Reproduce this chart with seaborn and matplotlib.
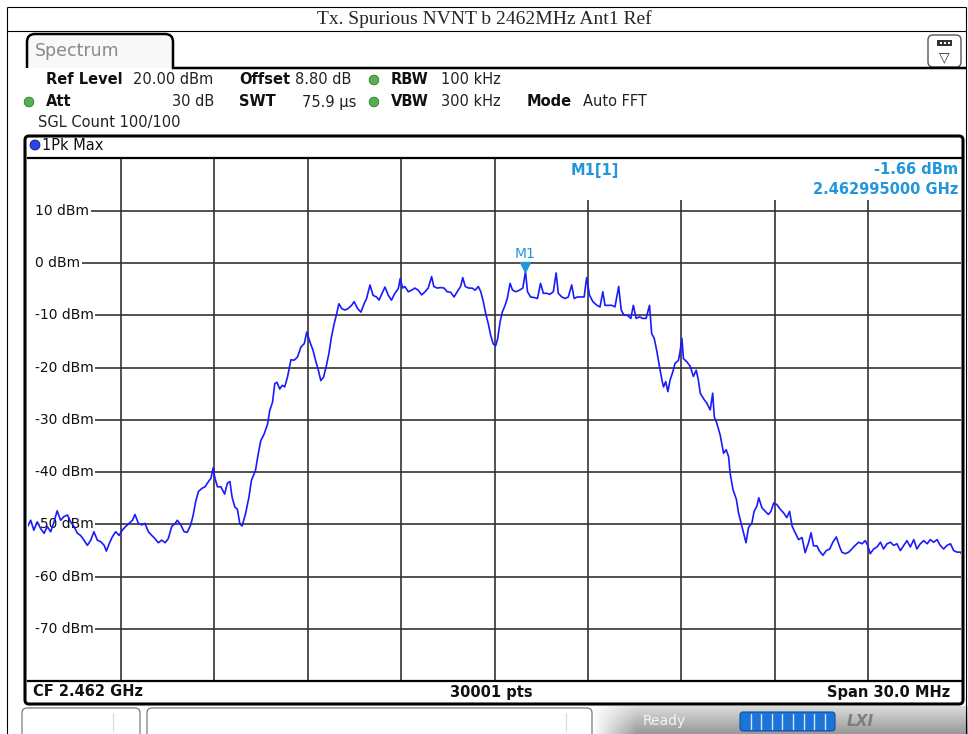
import numpy as np
import pandas as pd
import matplotlib
matplotlib.use("Agg")
import matplotlib.pyplot as plt
import matplotlib.transforms as mtransforms
from matplotlib.patches import Rectangle, FancyBboxPatch, Circle, PathPatch
from matplotlib.path import Path
import seaborn as sns

sns.set_theme(style="white")
plt.rcParams["font.family"] = ["DejaVu Sans"]

# ---- analyzer settings ----
center_ghz = 2.462
span_mhz = 30.0
ref_level_dbm = 20.0
db_per_div = 10.0
n_divs = 10
n_points = 30001
marker_freq_ghz = 2.462995
marker_level_dbm = -1.66

# ---- 1Pk Max trace: offset from start frequency (MHz) and level (dBm) ----
freq_offset_mhz = [
    0.00, 0.10, 0.20, 0.31, 0.42, 0.53, 0.63, 0.74, 0.85, 0.95,
    1.06, 1.17, 1.28, 1.38, 1.49, 1.60, 1.70, 1.81, 1.92, 2.03,
    2.13, 2.24, 2.35, 2.46, 2.53, 2.62, 2.72, 2.83, 2.94, 3.04,
    3.15, 3.26, 3.37, 3.45, 3.56, 3.67, 3.77, 3.88, 3.99, 4.09,
    4.20, 4.31, 4.42, 4.52, 4.63, 4.74, 4.81, 4.92, 5.03, 5.13,
    5.24, 5.32, 5.40, 5.49, 5.60, 5.70, 5.81, 5.89, 5.96, 6.02,
    6.10, 6.21, 6.33, 6.42, 6.50, 6.57, 6.66, 6.74, 6.82, 6.89,
    7.00, 7.11, 7.19, 7.32, 7.41, 7.49, 7.60, 7.71, 7.78, 7.87,
    7.94, 8.01, 8.10, 8.18, 8.26, 8.35, 8.46, 8.56, 8.67, 8.78,
    8.89, 8.97, 9.07, 9.17, 9.25, 9.34, 9.42, 9.51, 9.60, 9.68,
    9.76, 9.85, 9.93, 10.00, 10.09, 10.19, 10.30, 10.41, 10.49, 10.60,
    10.71, 10.81, 10.89, 11.00, 11.10, 11.21, 11.29, 11.39, 11.48, 11.59,
    11.69, 11.80, 11.91, 11.97, 12.05, 12.12, 12.23, 12.34, 12.44, 12.55,
    12.66, 12.77, 12.87, 12.98, 13.05, 13.16, 13.27, 13.38, 13.48, 13.59,
    13.70, 13.80, 13.91, 13.98, 14.06, 14.17, 14.28, 14.38, 14.48, 14.56,
    14.64, 14.73, 14.80, 14.88, 14.96, 15.04, 15.10, 15.18, 15.25, 15.34,
    15.41, 15.50, 15.58, 15.69, 15.80, 15.91, 15.995, 16.06, 16.16, 16.27,
    16.38, 16.48, 16.57, 16.68, 16.78, 16.89, 16.98, 17.05, 17.16, 17.27,
    17.37, 17.48, 17.56, 17.66, 17.77, 17.88, 17.96, 18.05, 18.16, 18.29,
    18.39, 18.48, 18.55, 18.66, 18.77, 18.87, 18.99, 19.07, 19.16, 19.27,
    19.38, 19.46, 19.55, 19.66, 19.76, 19.87, 19.98, 20.05, 20.13, 20.21,
    20.30, 20.38, 20.43, 20.50, 20.57, 20.64, 20.73, 20.80, 20.91, 20.96,
    21.02, 21.07, 21.18, 21.29, 21.39, 21.48, 21.55, 21.61, 21.71, 21.82,
    21.93, 22.01, 22.06, 22.14, 22.25, 22.36, 22.44, 22.52, 22.57, 22.66,
    22.77, 22.84, 22.92, 23.00, 23.08, 23.16, 23.27, 23.34, 23.43, 23.49,
    23.59, 23.70, 23.80, 23.88, 23.97, 24.07, 24.18, 24.29, 24.39, 24.48,
    24.56, 24.66, 24.77, 24.88, 24.98, 25.09, 25.17, 25.25, 25.36, 25.44,
    25.55, 25.66, 25.77, 25.87, 25.98, 26.09, 26.16, 26.27, 26.38, 26.48,
    26.59, 26.70, 26.81, 26.91, 26.99, 27.07, 27.18, 27.29, 27.40, 27.50,
    27.61, 27.72, 27.82, 27.93, 28.04, 28.15, 28.25, 28.36, 28.47, 28.57,
    28.68, 28.79, 28.90, 29.00, 29.11, 29.22, 29.32, 29.43, 29.54, 29.65,
    29.75, 29.86, 29.97, 30.00,
]
level_dbm = [
    -50.4, -49.2, -51.1, -49.5, -50.8, -51.7, -50.4, -51.4, -49.5, -47.4,
    -49.2, -48.5, -48.2, -49.5, -50.4, -51.7, -52.1, -53.0, -54.0, -53.0,
    -51.4, -53.0, -53.3, -54.0, -55.1, -53.7, -52.4, -51.4, -52.1, -51.1,
    -50.4, -49.8, -49.2, -48.1, -49.8, -50.1, -49.8, -51.4, -52.1, -52.7,
    -53.5, -53.0, -53.5, -52.7, -50.4, -49.8, -49.2, -50.1, -51.4, -51.5,
    -50.1, -48.2, -45.6, -43.7, -43.1, -42.8, -41.8, -41.2, -39.2, -41.2,
    -42.8, -42.8, -44.2, -42.1, -41.8, -44.8, -46.7, -47.1, -49.9, -50.3,
    -48.0, -44.8, -41.6, -39.7, -36.5, -34.0, -32.7, -30.8, -28.2, -26.6,
    -23.1, -22.8, -24.1, -23.4, -23.7, -21.8, -18.5, -18.6, -18.0, -16.1,
    -15.4, -13.2, -15.1, -16.7, -18.6, -20.5, -22.5, -21.8, -19.6, -17.3,
    -14.2, -11.6, -9.7, -7.8, -8.7, -9.0, -8.7, -8.1, -7.4, -8.7,
    -9.4, -7.8, -6.8, -4.2, -6.2, -6.5, -7.1, -5.8, -4.6, -6.2,
    -7.1, -5.8, -4.9, -3.0, -4.8, -4.5, -5.5, -5.2, -4.8, -5.2,
    -6.1, -5.5, -4.8, -2.6, -4.5, -4.8, -4.7, -4.8, -5.5, -5.6,
    -6.5, -5.5, -4.5, -2.8, -4.5, -4.8, -4.8, -5.2, -4.5, -5.5,
    -7.4, -10.0, -11.6, -13.9, -15.5, -15.8, -14.5, -11.3, -9.4, -8.1,
    -6.8, -3.9, -5.2, -5.5, -5.2, -4.8, -1.66, -5.5, -6.5, -6.6,
    -6.8, -3.9, -5.8, -5.8, -6.0, -5.5, -1.9, -5.8, -6.5, -6.8,
    -6.5, -4.2, -6.8, -6.5, -6.5, -6.5, -2.8, -6.1, -7.4, -8.1,
    -8.4, -5.5, -8.1, -8.1, -8.1, -8.4, -4.5, -9.0, -10.0, -10.0,
    -10.6, -8.1, -10.6, -10.3, -10.6, -10.6, -8.1, -13.5, -14.4, -16.7,
    -19.8, -22.4, -23.7, -22.7, -24.6, -22.4, -20.8, -19.2, -18.6, -17.0,
    -14.4, -18.3, -18.9, -19.8, -21.7, -20.5, -22.4, -24.9, -25.9, -26.8,
    -28.1, -24.9, -29.4, -30.6, -32.9, -36.4, -35.7, -37.0, -40.2, -43.3,
    -45.2, -47.8, -49.7, -51.6, -53.5, -50.6, -49.7, -47.5, -46.5, -44.9,
    -46.8, -47.5, -48.1, -47.5, -45.9, -46.2, -47.1, -47.8, -48.7, -47.5,
    -50.3, -51.6, -52.9, -52.5, -55.4, -53.5, -51.6, -54.1, -54.1, -55.1,
    -55.9, -55.0, -54.7, -53.4, -52.4, -54.3, -55.3, -55.6, -55.3, -54.7,
    -54.0, -53.4, -53.7, -53.1, -54.0, -55.6, -54.7, -54.3, -53.4, -54.7,
    -53.7, -53.4, -54.0, -53.7, -55.0, -54.0, -53.1, -54.3, -52.9, -54.7,
    -53.7, -53.1, -53.7, -52.9, -53.4, -52.9, -54.0, -54.7, -54.0, -53.7,
    -55.0, -55.3, -55.3, -55.6,
]

start_mhz = center_ghz * 1000 - span_mhz / 2
trace = pd.DataFrame({
    "freq_mhz": np.asarray(freq_offset_mhz) + start_mhz,
    "level_dbm": level_dbm,
})

TRACE_BLUE = "#1a1aff"
MARKER_BLUE = "#2196dc"
GRID = "#333333"
W, H = 968, 734

fig = plt.figure(figsize=(W / 100, H / 100), dpi=100)
fig.patch.set_facecolor("white")

# full-figure canvas in pixel units (y downward) for the instrument frame
bg = fig.add_axes([0, 0, 1, 1], zorder=0)
bg.axis("off")

# ---- report title row ----
thin = dict(color="black", lw=0.8, solid_capstyle="butt")
bg.plot([7, 966], [7, 7], **thin)
bg.plot([7, 966], [31, 31], **thin)
bg.plot([7, 7], [7, H], **thin)
bg.plot([966, 966], [7, H], **thin)
bg.text(484, 19, "Tx. Spurious NVNT b 2462MHz Ant1 Ref", family="Liberation Serif",
        fontsize=14, ha="center", va="center")

# ---- "Spectrum" tab ----
M, L, C = Path.MOVETO, Path.LINETO, Path.CURVE3
tab_fill = Path([(27, 68), (27, 42), (27, 34), (35, 34), (165, 34), (173, 34), (173, 42), (173, 68), (27, 68)],
                [M, L, C, C, L, C, C, L, L])
bg.add_patch(PathPatch(tab_fill, fc="#f8f8f8", ec="none", zorder=1))
tab_edge = Path([(27, 68), (27, 42), (27, 34), (35, 34), (165, 34), (173, 34), (173, 42), (173, 68), (966, 68)],
                [M, L, C, C, L, C, C, L, L])
bg.add_patch(PathPatch(tab_edge, fc="none", ec="black", lw=1.8, zorder=2))
bg.text(35, 51, "Spectrum", color="#8a8a8a", fontsize=12.5, va="center", zorder=3)

# toolbar button at the right of the tab row
bg.add_patch(FancyBboxPatch((928, 35), 33, 32, boxstyle="round,pad=0,rounding_size=5",
                            fc="white", ec="#555555", lw=1.0, zorder=1))
bg.add_patch(Rectangle((937, 40), 15, 6, fc="#333333", ec="none", zorder=2))
for xx in (940, 944, 948):
    bg.add_patch(Rectangle((xx, 42), 2, 2, fc="white", ec="none", zorder=3))
bg.text(944.5, 57, "▽", fontsize=10, ha="center", va="center", color="#333333", zorder=3)

# ---- settings header ----
fs = 10.5
hb = dict(fontsize=fs, fontweight="bold", va="center", color="#111111")
hr = dict(fontsize=fs, va="center", color="#222222")


def status_dot(x, y, r=4.8, fc="#55b04f", ec="#2f7a2c"):
    bg.add_patch(Circle((x, y), r, fc=fc, ec=ec, lw=0.6, zorder=3))


bg.text(46, 80, "Ref Level", **hb)
bg.text(133, 80, f"{ref_level_dbm:.2f} dBm", **hr)
bg.text(239, 80, "Offset", **hb)
bg.text(295, 80, "8.80 dB", **hr)
status_dot(374, 80)
bg.text(391, 80, "RBW", **hb)
bg.text(441, 80, "100 kHz", **hr)

status_dot(29, 102)
bg.text(46, 102, "Att", **hb)
bg.text(214, 102, "30 dB", ha="right", **hr)
bg.text(239, 102, "SWT", **hb)
bg.text(302, 102, "75.9 µs", **hr)
status_dot(374, 102)
bg.text(391, 102, "VBW", **hb)
bg.text(441, 102, "300 kHz", **hr)
bg.text(527, 102, "Mode", **hb)
bg.text(583, 102, "Auto FFT", **hr)

bg.text(38, 123, "SGL Count 100/100", **hr)

# ---- diagram frame ----
bg.add_patch(FancyBboxPatch((25, 136), 938, 568, boxstyle="round,pad=0,rounding_size=4",
                            fc="white", ec="black", lw=2.2, zorder=1))
status_dot(35, 145, r=5, fc="#2a44e6", ec="#14237a")
bg.text(42, 145, "1Pk Max", fontsize=10.5, va="center", color="#111111", zorder=3)

fb = dict(fontsize=10.5, fontweight="bold", va="center", color="#111111", zorder=3)
bg.text(33, 692, f"CF {center_ghz:.3f} GHz", ha="left", **fb)
bg.text(491, 692, f"{n_points} pts", ha="center", **fb)
bg.text(950, 692, f"Span {span_mhz:.1f} MHz", ha="right", **fb)

# ---- status bar ----
grad_rows = np.linspace(0.86, 0.60, 28)[:, None]
grad_cols = np.clip(np.arange(376) / 45.0, 0, 1)[None, :]
gray = 1 - (1 - grad_rows) * grad_cols
bg.imshow(np.dstack([gray, gray, gray]), extent=(592, 968, 734, 706), aspect="auto", zorder=0.5)
for (x0, x1, div) in ((22, 140, 113), (147, 592, 566)):
    bg.add_patch(FancyBboxPatch((x0, 708), x1 - x0, 30, boxstyle="round,pad=0,rounding_size=5",
                                fc="white", ec="#7a7a7a", lw=0.9, zorder=1))
    bg.plot([div, div], [713, 731], color="#d8d8d8", lw=0.8, zorder=2)
bg.text(643, 721, "Ready", fontsize=10, color="#f4f4f4", va="center", zorder=2)
bg.add_patch(FancyBboxPatch((740, 712), 95, 19, boxstyle="round,pad=0,rounding_size=3",
                            fc="#1c74d8", ec="#0f4fa0", lw=0.8, zorder=2))
for k in range(1, 9):
    bg.plot([740 + k * 10.6, 740 + k * 10.6], [714, 729], color="#d5e6fa", lw=1.0, zorder=3)
bg.text(860, 721, "LXI", fontsize=11, fontweight="bold", style="italic", color="#7d7d7d",
        ha="center", va="center", zorder=2)

bg.set_xlim(0, W)
bg.set_ylim(H, 0)

# ---- spectrum diagram ----
px_left, px_right, px_top, px_bottom = 27.6, 961.4, 158.4, 681.3
ax = fig.add_axes([px_left / W, 1 - px_bottom / H, (px_right - px_left) / W, (px_bottom - px_top) / H],
                  zorder=1)
ax.set_facecolor("white")
x_min, x_max = start_mhz, start_mhz + span_mhz
y_min, y_max = ref_level_dbm - db_per_div * n_divs, ref_level_dbm
ax.set_xlim(x_min, x_max)
ax.set_ylim(y_min, y_max)
ax.set_xticks([])
ax.set_yticks([])
for side in ("left", "right"):
    ax.spines[side].set_visible(False)
for side in ("top", "bottom"):
    ax.spines[side].set_color("black")
    ax.spines[side].set_linewidth(1.6)

v_lines = x_min + np.arange(1, n_divs) * span_mhz / n_divs
h_levels = ref_level_dbm - np.arange(1, n_divs) * db_per_div
ax.vlines(v_lines, y_min, y_max, color=GRID, lw=1.2, zorder=1)

# marker readout area hides the upper part of the right-hand grid
info_left = start_mhz + 16.5
ax.add_patch(Rectangle((info_left, 12.0), x_max - info_left, y_max - 12.0,
                       fc="white", ec="none", zorder=1.5))

level_labels = []
for lvl in h_levels:
    t = ax.annotate(f"{lvl:.0f} dBm", xy=(0, lvl), xycoords=("axes fraction", "data"),
                    xytext=(7, 0), textcoords="offset pixels", ha="left", va="center",
                    fontsize=10, color="#111111", zorder=2)
    level_labels.append(t)

fig.canvas.draw()
to_data = ax.transData.inverted()
for t, lvl in zip(level_labels, h_levels):
    bb = t.get_window_extent()
    x_start = to_data.transform((bb.x1 + 2, 0))[0]
    ax.hlines(lvl, x_start, x_max, color=GRID, lw=1.2, zorder=1)

sns.lineplot(data=trace, x="freq_mhz", y="level_dbm", ax=ax, color=TRACE_BLUE, lw=1.2,
             estimator=None, sort=False, zorder=3)
ax.set_xlabel("")
ax.set_ylabel("")

# marker M1
m_x = marker_freq_ghz * 1000
lift = mtransforms.ScaledTranslation(0, 5 / 100, fig.dpi_scale_trans)
ax.plot([m_x], [marker_level_dbm], marker="v", ms=7, color=MARKER_BLUE, ls="none",
        transform=ax.transData + lift, zorder=4, clip_on=False)
ax.annotate("M1", xy=(m_x, marker_level_dbm), xytext=(0, 18), textcoords="offset pixels",
            ha="center", va="center", color=MARKER_BLUE, fontsize=10, zorder=4)

mk = dict(transform=bg.transData, color=MARKER_BLUE, fontsize=10.5, fontweight="bold",
          va="center", zorder=5)
ax.text(595, 170, "M1[1]", ha="center", **mk)
ax.text(958, 170, f"{marker_level_dbm:.2f} dBm", ha="right", **mk)
ax.text(958, 190, f"{marker_freq_ghz:.9f} GHz", ha="right", **mk)

fig.savefig("out.png", dpi=100, facecolor="white")
